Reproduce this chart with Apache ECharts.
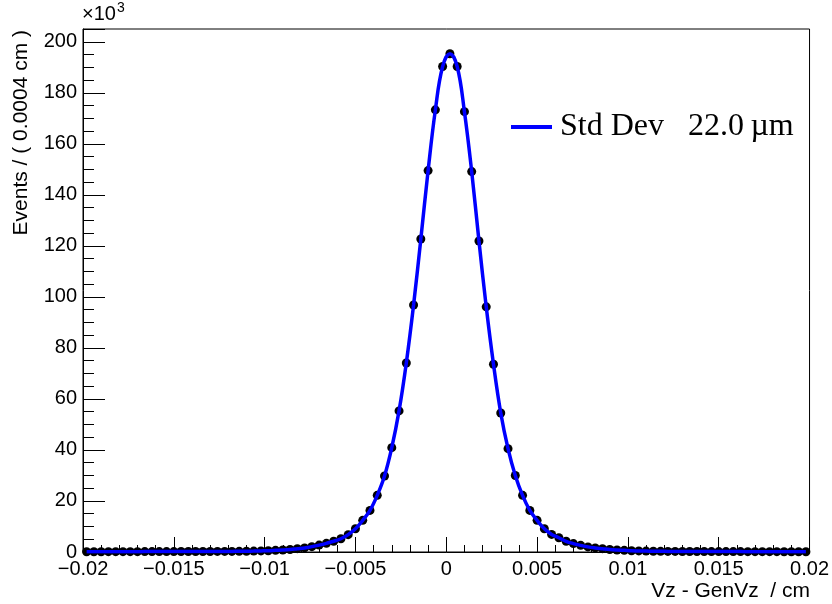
<!DOCTYPE html>
<html>
<head>
<meta charset="utf-8">
<script src="https://cdn.jsdelivr.net/npm/echarts@6/dist/echarts.min.js"></script>
<style>
  html, body { margin: 0; padding: 0; background: #fff; }
  #chart { width: 832px; height: 604px; }
</style>
</head>
<body>
<div id="chart"></div>
<script>
// histogram binning: 100 bins of 0.0004 cm from -0.02 to 0.02
var binLow = -0.02;
var binWidth = 0.0004;

// events per bin, in units of 10^3
var events = [
  0.12, 0.12, 0.12, 0.13, 0.13, 0.13, 0.14, 0.14, 0.15, 0.15,
  0.16, 0.16, 0.17, 0.18, 0.18, 0.19, 0.2, 0.21, 0.22, 0.23,
  0.24, 0.27, 0.3, 0.35, 0.42, 0.5, 0.65, 0.8, 1.0, 1.3,
  1.6, 2.1, 2.7, 3.4, 4.2, 5.2, 6.8, 9.1, 12.4, 16.3,
  22.2, 29.8, 40.9, 55.3, 74.1, 96.8, 122.7, 149.5, 173.3, 190.3,
  195.3, 190.3, 172.6, 149.1, 121.9, 96.1, 73.6, 54.5, 40.5, 30.0,
  22.2, 16.3, 12.4, 9.1, 6.9, 5.6, 4.2, 3.3, 2.6, 2.0,
  1.6, 1.3, 1.0, 0.8, 0.65, 0.5, 0.42, 0.36, 0.3, 0.27,
  0.24, 0.22, 0.21, 0.2, 0.19, 0.18, 0.17, 0.16, 0.16, 0.15,
  0.15, 0.14, 0.14, 0.13, 0.13, 0.13, 0.12, 0.12, 0.12, 0.12
];

var legendName = 'Std Dev   22.0\u2009\u00b5m';
var xTitle = 'Vz - GenVz  / cm';
var yTitle = 'Events / ( 0.0004 cm )';

var points = events.map(function (v, i) {
  return [+(binLow + binWidth * (i + 0.5)).toFixed(4), v];
});

var chart = echarts.init(document.getElementById('chart'));

function minus(v) {
  return (v < 0 ? '\u2212' : '') + Math.abs(v);
}

var font = 'Liberation Sans';

var option = {
  animation: false,
  grid: {
    left: 83, right: 22, top: 29, bottom: 52,
    show: true, borderColor: '#000', borderWidth: 1
  },
  legend: {
    data: [legendName],
    left: 511, top: 111, padding: 0,
    icon: 'rect',
    itemWidth: 41, itemHeight: 4,
    textStyle: { fontFamily: 'Liberation Serif', fontSize: 32, color: '#000', padding: [0, 0, 0, 3] }
  },
  xAxis: {
    type: 'value',
    min: -0.02, max: 0.02, interval: 0.005,
    axisLine: { lineStyle: { color: '#000', width: 1 } },
    axisTick: { inside: true, length: 15, lineStyle: { color: '#000' } },
    minorTick: { show: true, splitNumber: 5, length: 7, lineStyle: { color: '#000' } },
    splitLine: { show: false },
    axisLabel: {
      formatter: minus, margin: 7,
      fontFamily: font, fontSize: 20, color: '#000'
    }
  },
  yAxis: {
    type: 'value',
    min: 0, max: 205, interval: 20,
    axisLine: { show: true, onZero: false, lineStyle: { color: '#000', width: 1 } },
    axisTick: { inside: true, length: 22, lineStyle: { color: '#000' } },
    minorTick: { show: true, splitNumber: 4, length: 11, lineStyle: { color: '#000' } },
    splitLine: { show: false },
    axisLabel: {
      showMaxLabel: false, margin: 6,
      fontFamily: font, fontSize: 20, color: '#000'
    }
  },
  graphic: [
    {
      type: 'text', left: 82, top: 1,
      style: {
        text: '{a|\u00d710}{b|3}',
        rich: {
          a: { fontFamily: font, fontSize: 20, fill: '#000', verticalAlign: 'bottom' },
          b: { fontFamily: font, fontSize: 14, fill: '#000', verticalAlign: 'top', padding: [0, 0, 9, 1] }
        }
      }
    },
    {
      type: 'text', x: 21, y: 30, rotation: Math.PI / 2,
      style: {
        text: yTitle, fontFamily: font, fontSize: 21, fill: '#000',
        align: 'right', verticalAlign: 'middle'
      }
    },
    {
      type: 'text', x: 810, y: 591,
      style: {
        text: xTitle, fontFamily: font, fontSize: 21, fill: '#000',
        align: 'right', verticalAlign: 'middle'
      }
    }
  ],
  series: [
    {
      name: 'data',
      type: 'scatter',
      data: points,
      symbol: 'circle',
      symbolSize: 9,
      itemStyle: { color: '#000', opacity: 1 },
      z: 2
    },
    {
      name: legendName,
      type: 'line',
      data: points,
      smooth: 0.4,
      showSymbol: false,
      lineStyle: { color: '#0000ff', width: 3.5 },
      itemStyle: { color: '#0000ff' },
      z: 3
    }
  ]
};

chart.setOption(option);
</script>
</body>
</html>
